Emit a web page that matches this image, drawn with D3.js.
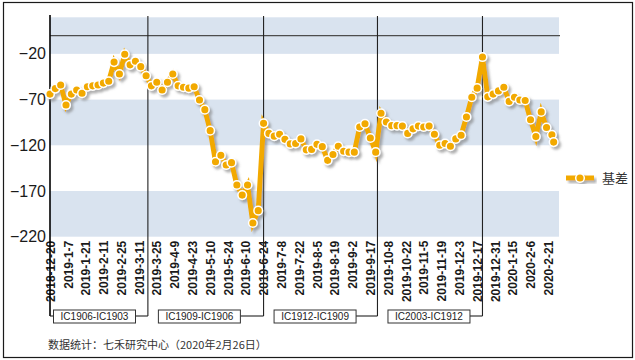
<!DOCTYPE html>
<html>
<head>
<meta charset="utf-8">
<script src="https://cdn.jsdelivr.net/npm/d3@7"></script>
<style>
  html, body { margin: 0; padding: 0; background: #fff; }
  svg { display: block; }
</style>
</head>
<body>
<svg id="chart" width="635" height="360"></svg>
<script>
// ---------- data ----------
const xLabels = ["2018-12-20","2019-1-7","2019-1-21","2019-2-11","2019-2-25","2019-3-11",
  "2019-3-25","2019-4-9","2019-4-23","2019-5-10","2019-5-24","2019-6-10","2019-6-24",
  "2019-7-8","2019-7-22","2019-8-5","2019-8-19","2019-9-2","2019-9-17","2019-10-8",
  "2019-10-22","2019-11-5","2019-11-19","2019-12-3","2019-12-17","2019-12-31",
  "2020-1-15","2020-2-6","2020-2-21"];
const labelEvery = 10;      // trading days between axis labels
const totalDays = 286;      // last trading-day category index
const sampleStep = 3;       // basis sampled every 3 trading days
const lastDay = 283;        // final observation (2020-2-26)

const basis = [
  -64, -58, -54, -76, -64, -59.5, -63, -56, -55, -54,
  -52, -50, -29, -42, -20.5, -32, -28, -34, -44, -55,
  -51, -59.5, -51, -42, -55, -56.5, -57.5, -56, -70.5, -81,
  -104, -138, -131, -141.5, -139, -163.5, -174.5, -163.5, -205, -191.5,
  -96, -107, -110, -108, -113.5, -118.5, -118, -113, -125, -124.5,
  -119, -121.5, -136.5, -130, -121, -126.5, -127.5, -127.5, -100, -96.5,
  -112, -127.5, -85, -94.5, -98.5, -98.5, -99, -107, -102, -99,
  -100, -99, -108, -120, -118, -121, -113, -109, -89, -67.5,
  -57.5, -23.5, -67, -64, -60.5, -56.5, -72, -67.5, -70.5, -71,
  -92, -110.5, -83.5, -100.5, -108.5, -116.5
];
const yTicks = [-220, -170, -120, -70, -20];
const yMax = 20;
const contracts = ["IC1906-IC1903", "IC1909-IC1906", "IC1912-IC1909", "IC2003-IC1912"];
const rollDays = [55, 120, 184, 243];
const seriesName = "基差";
const sourceText = "数据统计：七禾研究中心（2020年2月26日）";

// ---------- setup ----------
const svg = d3.select("#chart");
const W = 635, H = 360;
const plot = { left: 50, right: 559, top: 17.3, bottom: 236.7 };
const ORANGE = "#f2a900";
const BAND = "#d9e3ef";
const latin = "'Liberation Sans', Arial, sans-serif";
const cjk = "'Noto Sans CJK SC', 'Noto Sans', sans-serif";

const x = d3.scaleLinear().domain([0, totalDays]).range([plot.left, plot.right]);
const y = d3.scaleLinear().domain([yTicks[0], yMax]).range([plot.bottom, plot.top]);

const points = basis.map((v, i) => ({
  day: i < basis.length - 1 ? i * sampleStep : lastDay, v
}));

const defs = svg.append("defs");
const f = defs.append("filter").attr("id", "shadow")
  .attr("x", "-10%").attr("y", "-10%").attr("width", "120%").attr("height", "120%");
f.append("feDropShadow").attr("dx", 2.4).attr("dy", 2.6).attr("stdDeviation", 1)
  .attr("flood-color", "#7a7a7a").attr("flood-opacity", 0.6);

// background + border
svg.append("rect").attr("x", 0).attr("y", 0).attr("width", W).attr("height", H).attr("fill", "#fff");
svg.append("rect").attr("x", 3.5).attr("y", 2.5).attr("width", 629).attr("height", 355)
  .attr("fill", "none").attr("stroke", "#1a1a1a").attr("stroke-width", 1.2);

// bands
const edges = yTicks.concat([yMax]);
for (let k = 0; k < edges.length - 1; k++) {
  if (k % 2 === 0) {
    svg.append("rect")
      .attr("x", plot.left).attr("width", plot.right - plot.left)
      .attr("y", y(edges[k + 1])).attr("height", y(edges[k]) - y(edges[k + 1]))
      .attr("fill", BAND);
  }
}

// zero line
svg.append("line")
  .attr("x1", plot.left).attr("x2", plot.right + 1)
  .attr("y1", y(0)).attr("y2", y(0))
  .attr("stroke", "#4d4d4d").attr("stroke-width", 1.2);

// y axis labels
const yAxis = svg.append("g").attr("transform", `translate(${plot.left},0)`)
  .call(d3.axisLeft(y).tickValues(yTicks).tickSize(0).tickPadding(4).tickFormat(d3.format("d")));
yAxis.select(".domain").remove();
yAxis.selectAll("text").attr("font-family", latin).attr("font-size", 16).attr("fill", "#1a1a1a");

// x axis labels
const xAxis = svg.append("g").attr("transform", `translate(0,${plot.bottom})`)
  .call(d3.axisBottom(x).tickValues(xLabels.map((_, j) => j * labelEvery)).tickSize(0)
    .tickFormat((d, i) => xLabels[i]));
xAxis.select(".domain").remove();
xAxis.selectAll("text")
  .attr("transform", "rotate(-90)")
  .attr("text-anchor", "end")
  .attr("x", -4).attr("y", 0).attr("dy", "0.35em")
  .attr("font-family", latin).attr("font-size", 12).attr("font-weight", "bold")
  .attr("fill", "#1a1a1a");

// y axis line (extends down to the contract brackets)
const bracketY = 316;
svg.append("line").attr("x1", plot.left).attr("x2", plot.left)
  .attr("y1", 15).attr("y2", bracketY)
  .attr("stroke", "#000").attr("stroke-width", 1.6);

// contract roll lines, brackets and boxes
const boxW = 82, boxH = 13;
contracts.forEach((c, j) => {
  const xr = x(rollDays[j]);
  const left = j === 0 ? plot.left + 3 : x(rollDays[j - 1]) + 10;
  svg.append("line").attr("x1", xr).attr("x2", xr).attr("y1", 16).attr("y2", bracketY)
    .attr("stroke", "#222").attr("stroke-width", 1.1);
  svg.append("line").attr("x1", left + boxW).attr("x2", xr).attr("y1", bracketY).attr("y2", bracketY)
    .attr("stroke", "#222").attr("stroke-width", 1.1);
  if (j === 0) {
    svg.append("line").attr("x1", plot.left).attr("x2", left).attr("y1", bracketY).attr("y2", bracketY)
      .attr("stroke", "#222").attr("stroke-width", 1.1);
  }
  svg.append("rect").attr("x", left + 0.5).attr("y", bracketY - boxH / 2 + 0.5)
    .attr("width", boxW).attr("height", boxH)
    .attr("fill", "#fff").attr("stroke", "#333").attr("stroke-width", 1);
  svg.append("text").attr("x", left + boxW / 2 + 0.5).attr("y", bracketY + 0.5)
    .attr("dy", "0.35em").attr("text-anchor", "middle")
    .attr("font-family", latin).attr("font-size", 10).attr("fill", "#222").text(c);
});

// series
const series = svg.append("g").attr("filter", "url(#shadow)");
series.append("path").datum(points)
  .attr("d", d3.line().x(d => x(d.day)).y(d => y(d.v)))
  .attr("fill", "none").attr("stroke", ORANGE).attr("stroke-width", 5)
  .attr("stroke-linejoin", "miter").attr("stroke-miterlimit", 5);
series.selectAll("circle").data(points).join("circle")
  .attr("cx", d => x(d.day)).attr("cy", d => y(d.v)).attr("r", 4.3)
  .attr("fill", ORANGE).attr("stroke", "#fff").attr("stroke-width", 1.5);

// legend
const lg = svg.append("g").attr("transform", "translate(566,178)");
const lgs = lg.append("g").attr("filter", "url(#shadow)");
lgs.append("line").attr("x1", 0).attr("x2", 28).attr("y1", 0).attr("y2", 0)
  .attr("stroke", ORANGE).attr("stroke-width", 5);
lgs.append("circle").attr("cx", 14).attr("cy", 0).attr("r", 4.3)
  .attr("fill", ORANGE).attr("stroke", "#fff").attr("stroke-width", 1.5);
lg.append("text").attr("x", 36).attr("y", 0).attr("dy", "0.35em")
  .attr("font-family", cjk).attr("font-size", 13).attr("fill", "#333").text(seriesName);

// source note
svg.append("text").attr("x", 48).attr("y", 349)
  .attr("font-family", cjk).attr("font-size", 11).attr("fill", "#333").text(sourceText);
</script>
</body>
</html>
